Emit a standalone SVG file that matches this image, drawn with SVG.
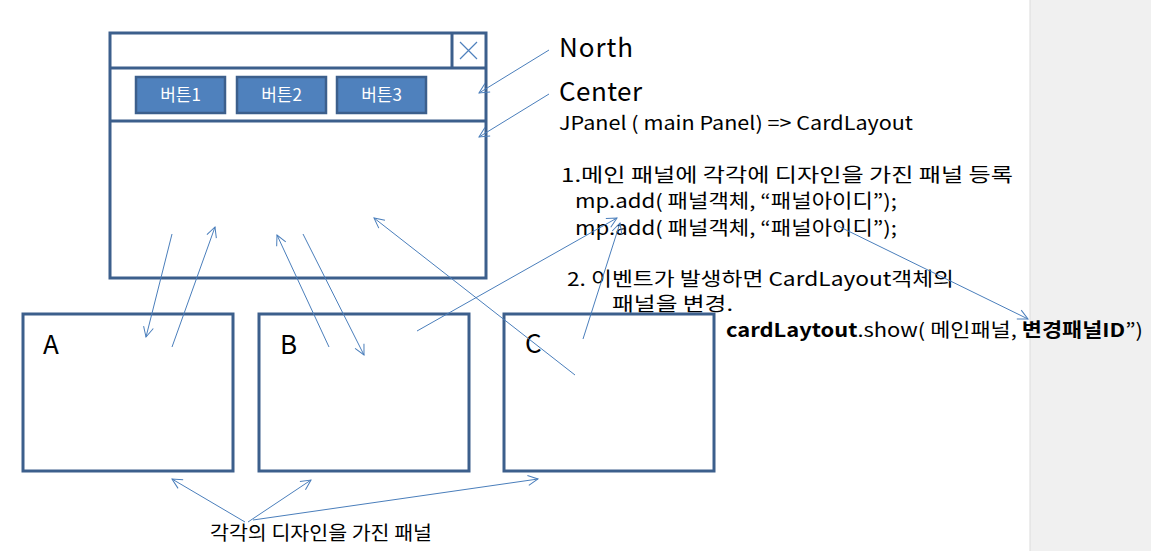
<svg xmlns="http://www.w3.org/2000/svg" width="1151" height="551" viewBox="0 0 1151 551">
<style>
text{font-family:"Noto Sans CJK KR","Noto Sans",sans-serif;fill:#000}
.frame{fill:none;stroke:#3c5f8c;stroke-width:3}
.sep{stroke:#3c5f8c;stroke-width:3;fill:none}
.btn{fill:#4f81bd;stroke:#3c5f8c;stroke-width:2.5}
.btxt{fill:#fff;font-size:17px;text-anchor:middle}
.big{font-size:26px}
.body{font-size:19px}
.conn line{stroke:#4a7ebb;stroke-width:1;marker-end:url(#ah)}
</style>
<defs>
<marker id="ah" markerUnits="userSpaceOnUse" viewBox="-12 -7 14 14" refX="0" refY="0" markerWidth="14" markerHeight="14" orient="auto">
<path d="M-10,-5 L0,0 L-10,5" fill="none" stroke="#4a7ebb" stroke-width="1"/>
</marker>
</defs>
<rect x="0" y="0" width="1151" height="551" fill="#fff"/>
<rect id="sidebar" x="1030" y="-1" width="122" height="553" fill="#f0f0f0" stroke="#dcdcdc" stroke-width="1"/>

<g id="labels">
<text class="big" x="559" y="57" textLength="74">North</text>
<text class="big" x="559" y="101" textLength="83">Center</text>
<text class="body" x="559" y="130" textLength="354" lengthAdjust="spacingAndGlyphs">JPanel ( main Panel) =&gt; CardLayout</text>
<text class="body" x="561" y="182" textLength="452" lengthAdjust="spacingAndGlyphs">1.메인 패널에 각각에 디자인을 가진 패널 등록</text>
<text class="body" x="575" y="208" textLength="322" lengthAdjust="spacingAndGlyphs">mp.add( 패널객체, “패널아이디”);</text>
<text class="body" x="575" y="235" textLength="322" lengthAdjust="spacingAndGlyphs">mp.add( 패널객체, “패널아이디”);</text>
<text class="body" x="567" y="286" textLength="387" lengthAdjust="spacingAndGlyphs">2. 이벤트가 발생하면 CardLayout객체의</text>
<text class="body" x="612" y="311" textLength="121" lengthAdjust="spacingAndGlyphs">패널을 변경.</text>
<text class="body" x="726" y="337" textLength="417" lengthAdjust="spacingAndGlyphs"><tspan font-weight="bold">cardLaytout</tspan>.show( 메인패널, <tspan font-weight="bold">변경패널ID</tspan>”)</text>
<text x="210" y="540" font-size="19" textLength="222" lengthAdjust="spacingAndGlyphs">각각의 디자인을 가진 패널</text>
</g>

<g id="window">
<rect x="110" y="33" width="376" height="245" fill="#fff" stroke="#3c5f8c" stroke-width="3"/>
<line class="sep" x1="110" y1="68" x2="486" y2="68"/>
<line class="sep" x1="110" y1="121" x2="486" y2="121"/>
<line class="sep" x1="452" y1="33" x2="452" y2="68"/>
<path d="M460,42 L477,59 M477,42 L460,59" stroke="#4f81bd" stroke-width="1.2" fill="none"/>
</g>
<g id="btn1"><rect class="btn" x="136" y="77" width="89" height="36"/><text class="btxt" x="180.5" y="101">버튼1</text></g>
<g id="btn2"><rect class="btn" x="237" y="77" width="89" height="36"/><text class="btxt" x="281.5" y="101">버튼2</text></g>
<g id="btn3"><rect class="btn" x="337" y="77" width="89" height="36"/><text class="btxt" x="381.5" y="101">버튼3</text></g>

<g id="panelA"><rect class="frame" x="23" y="314" width="210" height="157"/><text class="big" x="43" y="354">A</text></g>
<g id="panelB"><rect class="frame" x="259" y="314" width="210" height="157"/><text class="big" x="280" y="354">B</text></g>
<g id="panelC"><rect class="frame" x="504" y="314" width="210" height="157"/><text class="big" x="525" y="353">C</text></g>

<g id="connectors" class="conn">
<line x1="549" y1="50" x2="479" y2="93"/>
<line x1="549" y1="94" x2="479" y2="137"/>
<line x1="172" y1="234" x2="146" y2="337"/>
<line x1="172" y1="347" x2="215" y2="227"/>
<line x1="329" y1="347" x2="277" y2="235"/>
<line x1="303" y1="234" x2="364" y2="355"/>
<line x1="575" y1="375" x2="374" y2="218"/>
<line x1="417" y1="331" x2="617" y2="218"/>
<line x1="583" y1="339" x2="620" y2="223"/>
<line x1="838" y1="226" x2="1028" y2="319"/>
<line x1="245" y1="522" x2="172" y2="479"/>
<line x1="248" y1="522" x2="311" y2="480"/>
<line x1="253" y1="520" x2="538" y2="479"/>
</g>
</svg>
